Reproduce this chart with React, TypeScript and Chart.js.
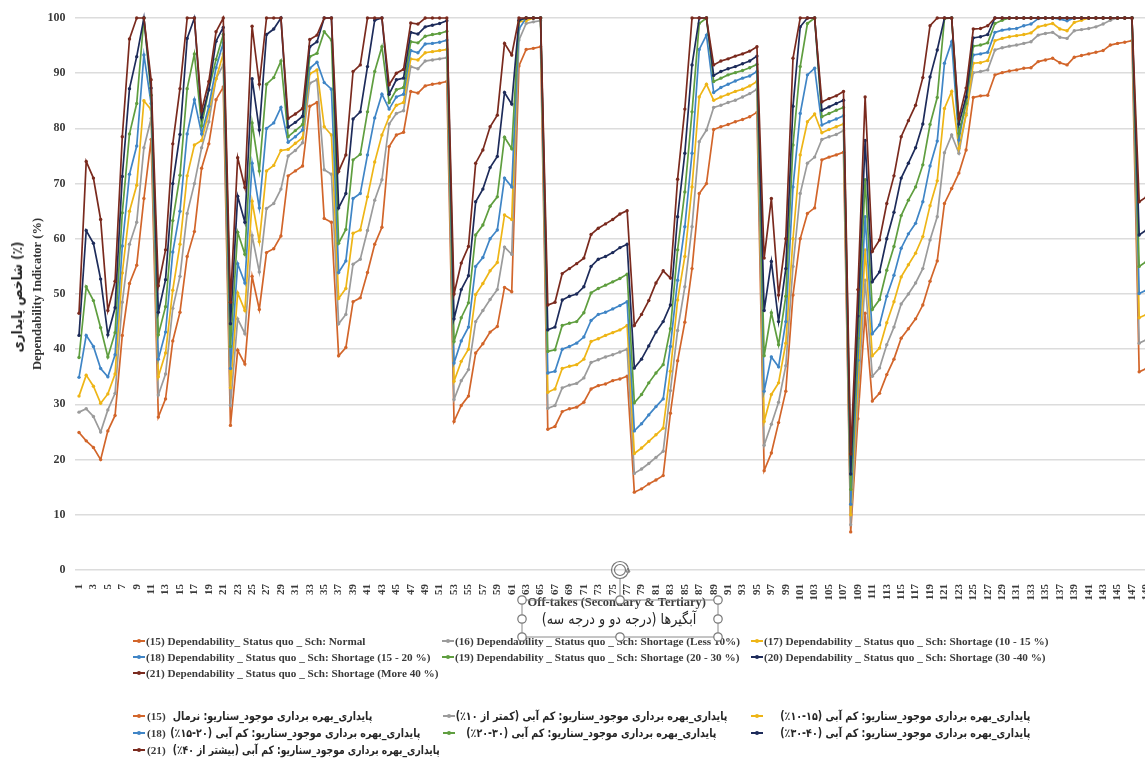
import React, { useEffect, useRef } from "react";
import { Chart, registerables } from "chart.js";

Chart.register(...registerables);

const categories: string[] = [];
for (let n = 1; n <= 149; n++) categories.push(String(n));

const yTicks = [0, 10, 20, 30, 40, 50, 60, 70, 80, 90, 100];

const s15 = [24.9,23.4,22.2,20,25.2,28,42.5,51.9,55.2,67.3,
78,27.7,31,41.5,46.7,56.8,61.3,72.8,77.2,85.2,
87.5,26.2,39.8,37.3,53.2,47.2,57.5,58.2,60.5,71.4,
72.3,73.2,84,84.7,63.7,63,38.8,40.3,48.6,49.3,
53.9,59,62.1,76.7,78.8,79.3,86.7,86.4,87.7,88,
88.2,88.5,26.9,29.8,31.5,39.3,41,43.1,44.1,51.2,
50.4,91.3,94.3,94.5,94.8,25.5,26,28.7,29.2,29.5,
30.4,32.8,33.4,33.7,34.3,34.6,35.1,14.1,14.7,15.6,
16.3,17.1,28.4,37.9,44.9,54.6,68.2,70,79.8,80.3,
80.7,81.2,81.6,82.1,82.9,18,21.2,26.7,32.4,49.8,
60,64.6,65.6,74.3,74.8,75.2,75.7,6.9,27.4,46.5,
30.6,32,35.4,38.2,42,43.7,45.5,48,52.3,56,
66.4,69.1,71.9,76.1,85.6,85.9,86,89.7,90.1,90.4,
90.6,90.9,91,92.1,92.4,92.7,91.9,91.5,92.9,93.2,
93.5,93.8,94.1,95.1,95.4,95.6,95.9,35.9,36.5];

const s16 = [28.6,29.2,27.8,25,29,32,48.5,59,63,76.5,
81.8,31.7,35.5,47.4,53.2,64.6,70,76.5,81.2,89,
91.5,29.8,45.5,42.8,60.6,54,65.5,66.4,69,75,
76,77.4,88.2,88.8,72.5,71.7,44.6,46.3,55.4,56.3,
61.5,67,70.7,80.8,82.7,83.2,91.2,90.8,92.2,92.4,
92.6,92.8,30.9,34.3,36.3,45,47,49,50.8,58.5,
57.2,96,99,99.3,99.5,29.3,29.8,33,33.5,33.8,
34.8,37.6,38.1,38.6,39,39.5,40,17.5,18.3,19.3,
20.4,21.5,32.5,43.4,51.3,62.2,77.6,79.7,83.8,84.2,
84.7,85.1,85.7,86.3,87.1,22.6,26.4,30.4,37,55,
68.2,73.7,74.8,78,78.5,78.9,79.6,8.2,31,52.5,
35.1,36.6,40.8,44,48.2,50,52,54.6,59.8,64,
75.6,78.8,75.5,82.7,90.1,90.3,90.6,94.2,94.6,94.9,
95.1,95.4,95.7,96.9,97.2,97.4,96.5,96.3,97.7,97.9,
98.1,98.4,98.9,99.6,100,100,100,41.1,41.7];

const s17 = [31.5,35.3,33.3,30.2,31.9,35.5,53.8,65,69.7,85,
83.4,35,39.3,50.7,59,71.4,77,77.8,83,89,
93.5,33,50.2,47,66.8,59.5,72.3,73.3,76,76.2,
77.3,78.3,89.9,90.6,80.3,78.8,49.2,51,61,61.6,
67.6,73.9,78.8,82.1,84.2,84.7,92.6,92.4,93.7,93.9,
94.1,94.3,34.2,37.8,40,49.9,51.9,54.2,55.7,64.3,
63.5,99.3,99.5,100,100,32.2,32.8,36.5,36.9,37.2,
38.2,41.4,41.9,42.5,43,43.5,44.3,21.1,22.1,23.3,
24.5,25.7,36,48.9,56.8,69.4,85.7,88,85.1,85.7,
86.2,86.7,87.1,87.7,88.5,26.9,31.8,33.9,41.1,60,
75.2,81.2,82.6,79.2,79.8,80.3,80.8,10,34,58,
38.8,40.2,44.8,48.6,53.1,55.3,57.4,60.4,66,70.5,
83.6,86.7,76.4,82.4,91.8,91.9,92.3,95.9,96.3,96.6,
96.8,97,97.3,98.4,98.7,99,98,97.7,99.2,99.6,
100,100,100,100,100,100,100,45.7,46.3];

const s18 = [34.9,42.5,40.5,36.5,35,39,58.7,71.7,76.8,93.3,
84.5,38.2,43.1,57.6,65,79,85.2,79,84,91,
95.5,36.5,55.5,52,73.7,65.6,80,81,83.8,77.5,
78.5,79.7,90.9,92,88.3,87.1,53.9,56,67.3,68.2,
75.2,81.9,86.2,83.5,85.7,86.2,94.1,93.7,95.3,95.4,
95.6,96,37.5,41.5,44,55,56.6,60,61.6,71,
69.4,98,100,100,100,35.7,36,40,40.5,41.1,
42.2,45.2,46.3,46.7,47.3,47.9,48.6,25.2,26.5,28.1,
29.6,31,40.5,52.5,62.2,75.5,94.3,96.9,86.5,87.4,
88,88.6,89.1,89.5,90.3,32.4,38.6,36.8,45,69.4,
82.7,89.7,90.9,80.6,81.2,81.7,82.3,11.9,38,64,
42.8,44.4,49.6,53.4,58.3,60.9,62.8,66.7,73.2,77.7,
91.8,95.7,77.9,85,93.3,93.5,93.8,97.4,97.8,98,
98.1,98.6,98.9,99.9,100,100,99.8,99.5,100,100,
100,100,100,100,100,100,100,50.1,50.7];

const s19 = [38.5,51.3,48.8,43.9,38.6,43,64.7,79,84.5,100,
86,42.6,47.7,63.3,71.5,87.2,93.5,80.5,87,92.5,
97,40.5,61.2,57.2,81,72.3,88,89.2,92.2,78.5,
79.6,80.7,93,93.6,97.5,96,59.2,61.7,74.3,75.3,
83,90.3,94.8,84.7,87,87.4,95.7,95.5,96.7,97,
97.2,97.6,41.4,45.7,48.4,60.7,62.5,65.9,67.6,78.4,
76.3,99.5,100,100,100,39.6,39.9,44.3,44.7,45,
46.6,50.2,51,51.6,52.2,52.8,53.6,30.3,31.8,33.9,
35.7,37.2,43.7,58,68.5,83,99,100,88.5,89.1,
89.7,90.1,90.5,91,91.6,38.8,46.6,40.8,49.6,77,
91.2,99,100,82.1,82.7,83.3,83.8,14.6,42,70.7,
47.2,49,54.3,58.6,64.2,67,69.4,73.4,80.7,85.6,
99.9,100,79.1,84.5,94.9,95.1,95.5,99,99.6,100,
100,100,100,100,100,100,100,100,100,100,
100,100,100,100,100,100,100,55,55.9];

const s20 = [42.5,61.5,59.2,52.7,42.6,47.5,71.3,87.2,93,100,
87.3,46.7,52.6,70,78.9,96.3,100,82,87,95.8,
98.3,44.6,67.7,63,89,79.7,97,98,100,80.2,
81.1,82.2,94.8,95.7,100,100,65.6,68.2,81.7,83,
91.2,99.6,100,86.2,88.8,89.1,97.4,97.1,98.4,98.7,
99,99.5,45.5,50.8,53.3,66.7,69,72.9,74.9,86.5,
84.4,99.6,100,100,100,43.5,44,48.9,49.6,50,
51.3,55,56.3,56.8,57.5,58.4,59,36.6,38.2,40.6,
43.1,45,48,64,75.5,91.5,100,100,89.6,90.3,
90.8,91.2,91.7,92.2,93.1,47,55.9,45,54.6,84,
98.4,100,100,83.3,83.9,84.5,85.1,17.4,46,77.8,
52.2,54,60,64.8,71,73.7,76.5,80.8,89.3,94.2,
100,100,80.8,85.7,96.4,96.6,97,100,100,100,
100,100,100,100,100,100,100,100,100,100,
100,100,100,100,100,100,100,60.7,61.6];

const s21 = [46.5,74,71,63.5,47,52.3,78.5,96.2,100,100,
88.8,51.5,58,77.2,87.2,100,100,83.2,88.5,97.5,
100,48.5,74.7,69.3,98.5,88,100,100,100,81.8,
82.6,83.6,96.1,96.9,100,100,72.2,75.2,90.3,91.5,
100,100,100,87.9,90,90.7,99.1,98.9,100,100,
100,100,50,55.6,58.6,73.7,76.1,80.3,82.4,95.4,
93.3,100,100,100,100,48,48.5,53.7,54.6,55.5,
56.5,60.8,61.9,62.7,63.5,64.5,65.1,44.3,46.3,48.8,
52,54.2,52.9,70.8,83.5,100,100,100,91.5,92.2,
92.6,93.1,93.5,94,94.8,56.5,67.3,49.8,60,92.7,
100,100,100,84.8,85.4,85.9,86.7,21,50.8,85.7,
57.7,59.8,66.4,71.4,78.5,81.4,84.2,89.2,98.6,100,
100,100,81.8,87.3,98,98.1,98.6,100,100,100,
100,100,100,100,100,100,100,100,100,100,
100,100,100,100,100,100,100,66.7,67.6];

const seriesValues = [s15, s16, s17, s18, s19, s20, s21];
const seriesColors = ["#d2652a", "#9b9b9b", "#eeb516", "#3f85c6", "#5f9e3f", "#1d2b5a", "#7a2a1e"];

const englishNames = [
  "(15) Dependability_ Status quo _ Sch: Normal",
  "(16)  Dependability _ Status quo _ Sch: Shortage (Less 10%)",
  "(17)  Dependability _ Status quo _ Sch: Shortage (10 - 15 %)",
  "(18) Dependability _ Status quo _ Sch: Shortage (15 - 20 %)",
  "(19) Dependability _ Status quo _ Sch: Shortage (20 - 30 %)",
  "(20) Dependability _ Status quo _ Sch: Shortage (30 -40 %)",
  "(21)  Dependability _ Status quo _ Sch: Shortage (More 40 %)",
];
const persianNames = [
  "پایداری_بهره برداری موجود_سناریو: نرمال",
  "پایداری_بهره برداری موجود_سناریو: کم آبی (کمتر از ۱۰٪)",
  "پایداری_بهره برداری موجود_سناریو: کم آبی (۱۵-۱۰٪)",
  "پایداری_بهره برداری موجود_سناریو: کم آبی (۲۰-۱۵٪)",
  "پایداری_بهره برداری موجود_سناریو: کم آبی (۳۰-۲۰٪)",
  "پایداری_بهره برداری موجود_سناریو: کم آبی (۴۰-۳۰٪)",
  "پایداری_بهره برداری موجود_سناریو: کم آبی (بیشتر از ۴۰٪)",
];
const persianCodes = ["(15)", "", "", "(18)", "", "", "(21)"];
const yTitleEn = "Dependability Indicator (%)";
const yTitleFa = "شاخص پایداری (٪)";
const xTitleEn = "Off-takes (Secondary & Tertiary)";
const xTitleFa = "آبگیرها (درجه دو و درجه سه)";

const SERIF = '"Liberation Serif", serif';
const FA = '"DejaVu Sans", sans-serif';
const INK = "#3b3b3b";

const enCols = [133, 442, 751];
const enRows = [641, 657, 673];
const faRows = [716, 733, 750];
const faSwatch = [133, 443, 751];
const faRight = [372, 727, 1030, 420, 716, 1030, 440];
const faScale = [0.83, 0.83, 0.83, 0.83, 0.83, 0.83, 0.8];

function Swatch({ x, y, color }: { x: number; y: number; color: string }) {
  return (
    <div style={{ position: "absolute", left: x, top: y - 1, width: 12, height: 2, background: color }}>
      <div style={{ position: "absolute", left: 4, top: -1, width: 4, height: 4, borderRadius: 2, background: color }} />
    </div>
  );
}

function Text({ style, children }: { style: React.CSSProperties; children: React.ReactNode }) {
  return <div style={{ position: "absolute", whiteSpace: "nowrap", color: "#262626", ...style }}>{children}</div>;
}

export default function App() {
  const ref = useRef<HTMLCanvasElement>(null);
  useEffect(() => {
    const chart = new Chart(ref.current!, {
      type: "line",
      data: {
        labels: categories,
        datasets: seriesValues.map((v, i) => ({
          label: englishNames[i],
          data: v,
          borderColor: seriesColors[i],
          backgroundColor: seriesColors[i],
          borderWidth: 1.7,
          pointRadius: 1.7,
          pointBorderWidth: 0,
          tension: 0,
          clip: false as any,
          order: 6 - i,
        })),
      },
      options: {
        animation: false,
        responsive: false,
        layout: { padding: { top: 18, bottom: 148, left: 0, right: 0 } },
        plugins: { legend: { display: false }, tooltip: { enabled: false }, title: { display: false } },
        scales: {
          x: {
            type: "category",
            offset: true,
            afterFit: (s: any) => {
              s.height = 42;
              s.paddingLeft = 0;
              s.paddingRight = 0;
              if (!s.__shifted) {
                s.__shifted = true;
                const draw = s.drawTitle;
                s.drawTitle = function () {
                  s.ctx.save();
                  s.ctx.translate(4, 0);
                  draw.call(s);
                  s.ctx.restore();
                };
              }
            },
            grid: { display: false },
            border: { display: false },
            ticks: {
              autoSkip: false,
              minRotation: 90,
              maxRotation: 90,
              padding: 6,
              color: INK,
              font: { family: SERIF, weight: "bold", size: 11 },
              callback: (_v: any, i: number) => (i % 2 === 0 ? categories[i] : ""),
            },
            title: {
              display: true,
              text: xTitleEn,
              color: INK,
              font: { family: SERIF, weight: "bold", size: 12.5 },
              padding: { top: 0, bottom: 2 },
            },
          },
          y: {
            min: 0,
            max: 100,
            afterFit: (s: any) => { s.width = 75.4; },
            afterBuildTicks: (s: any) => { s.ticks = yTicks.map((value) => ({ value })); },
            grid: { color: "#dcdcdc", lineWidth: 1.5, drawTicks: false },
            border: { display: false },
            ticks: {
              padding: 10,
              color: INK,
              font: { family: SERIF, weight: "bold", size: 12 },
            },
            title: {
              display: true,
              text: yTitleEn,
              color: "#333333",
              font: { family: SERIF, weight: "bold", size: 12.5 },
              padding: { top: 30, bottom: 0 },
            },
          },
        },
      } as any,
    });
    return () => chart.destroy();
  }, []);

  const handles = [
    [522, 600], [620, 600], [718, 600],
    [522, 619], [718, 619],
    [522, 637], [620, 637], [718, 637],
  ];

  return (
    <div style={{ position: "absolute", left: 0, top: 0, width: 1145, height: 760, overflow: "hidden", background: "#fff", filter: "blur(0.4px)" }}>
      <canvas ref={ref} width={1154} height={760} style={{ position: "absolute", left: 0, top: 0 }} />

      <Text style={{ left: 17, top: 297, transform: "translate(-50%,-50%) rotate(-90deg) scaleX(0.86)", font: `bold 14px ${FA}` }}>{yTitleFa}</Text>
      <Text style={{ left: 619, top: 619, transform: "translate(-50%,-50%) scaleX(0.85)", font: `15px ${FA}`, direction: "rtl" }}>{xTitleFa}</Text>

      {englishNames.map((name, i) => {
        const x = enCols[i % 3];
        const y = enRows[Math.floor(i / 3)];
        return (
          <React.Fragment key={name}>
            <Swatch x={x} y={y} color={seriesColors[i]} />
            <Text style={{ left: x + 13, top: y, transform: "translateY(-50%)", font: `bold 11.2px ${SERIF}`, color: INK }}>{name}</Text>
          </React.Fragment>
        );
      })}

      {persianNames.map((name, i) => {
        const x = faSwatch[i % 3];
        const y = faRows[Math.floor(i / 3)];
        return (
          <React.Fragment key={name}>
            <Swatch x={x} y={y} color={seriesColors[i]} />
            {persianCodes[i] && (
              <Text style={{ left: x + 14, top: y, transform: "translateY(-50%)", font: `bold 11.2px ${SERIF}`, color: INK }}>{persianCodes[i]}</Text>
            )}
            <Text style={{ right: 1145 - faRight[i], top: y, transformOrigin: "right center", transform: `translateY(-50%) scaleX(${faScale[i]})`, font: `bold 11.5px ${FA}`, direction: "rtl" }}>{name}</Text>
          </React.Fragment>
        );
      })}

      <svg width={1145} height={760} style={{ position: "absolute", left: 0, top: 0, pointerEvents: "none" }}>
        <rect x={522} y={600} width={196} height={37} fill="none" stroke="#8a8a8a" strokeWidth={1} />
        <line x1={620} y1={578} x2={620} y2={600} stroke="#8a8a8a" strokeWidth={1} />
        <circle cx={620} cy={570} r={8.5} fill="none" stroke="#777" strokeWidth={1.2} />
        <circle cx={620} cy={570} r={5.5} fill="none" stroke="#777" strokeWidth={1.2} />
        <path d="M626 572 l4 0 l-2 -4 z" fill="none" stroke="#777" strokeWidth={1} />
        {handles.map(([cx, cy]) => (
          <circle key={`${cx}-${cy}`} cx={cx} cy={cy} r={4.2} fill="#fff" stroke="#777" strokeWidth={1.2} />
        ))}
      </svg>
    </div>
  );
}
